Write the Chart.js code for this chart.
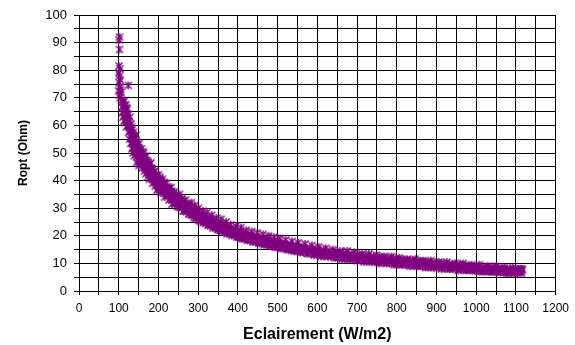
<!DOCTYPE html>
<html><head><meta charset="utf-8">
<script src="https://cdn.jsdelivr.net/npm/chart.js@4"></script>
<style>html,body{margin:0;padding:0;background:#fff}#wrap{width:575px;height:345px}</style>
</head><body><div id="wrap"><canvas id="c" width="575" height="345"></canvas></div>
<script>
// Eclairement (W/m2) - batch 1
const irradiance = [
102,101,102,101,103,100,102,104,101,103,105,100,102,104,106,124,107,108,110,109,
112,111,114,113,116,117,118,119,120,121,123,124,126,125,128,129,127,131,132,130,
134,135,133,137,138,136,140,141,139,143,144,146,147,145,149,150,152,153,151,155,
156,158,159,161,162,164,165,167,168,170,171,173,174,176,177,179,181,182,184,185,
187,189,191,192,194,196,198,200,202,204,206,208,210,212,214,216,218,220,222,225,
227,230,232,234,237,240,242,245,248,250,253,256,259,262,265,268,271,274,277,280,
283,286,289,292,295,298,301,304,308,312,315,319,322,326,330,334,338,342,346,350,
354,358,362,366,370,374,378,382,386,390,395,400,404,408,413,417,421,426,430,435,
440,444,449,454,458,463,468,472,477,482,486,491,496,500,505,510,515,520,526,531,
536,542,547,552,558,563,569,575,580,586,592,597,603,609,615,621,627,633,639,645,
651,657,663,669,675,681,687,693,700,706,712,718,724,730,737,743,749,756,762,768,
775,781,787,794,800,806,813,819,826,833,839,846,853,859,866,873,879,886,893,899,
906,913,919,926,933,940,947,954,960,967,974,981,988,995,1001,1008,1015,1022,1029,1036,
1043,1050,1057,1064,1071,1078,1085,1092,1099,1105,1110,1114,1116
];
// Ropt (Ohm) - batch 1
const ropt = [
92.0,91.0,87.5,81.5,80.5,79.0,78.0,76.5,75.5,74.0,73.0,72.5,71.0,70.0,72.0,74.5,69.0,66.5,68.5,64.5,
67.0,63.0,65.5,61.5,66.0,62.0,64.0,59.5,66.5,62.5,60.0,64.0,61.5,57.5,63.0,59.0,55.0,60.5,56.5,53.5,
58.5,55.0,51.5,57.5,53.5,50.0,56.0,52.0,49.0,54.5,50.5,53.0,48.5,46.5,51.5,47.5,53.5,49.5,45.5,50.5,
46.5,48.5,44.5,50.5,46.0,48.0,43.5,46.5,42.5,49.0,44.5,47.0,41.5,45.0,40.5,43.5,46.5,41.0,44.0,39.0,
42.5,40.0,43.5,38.0,41.0,36.5,39.5,42.0,37.5,40.5,35.5,38.0,40.5,36.0,38.5,34.0,36.5,39.0,35.0,37.0,
33.0,35.5,37.5,31.5,34.0,36.0,32.0,34.5,30.5,33.0,35.0,31.0,33.5,29.0,31.5,33.0,29.5,31.5,28.0,30.5,
32.0,27.5,29.5,31.0,26.5,28.5,30.0,25.5,27.5,29.0,25.0,26.5,28.5,24.0,26.0,27.5,23.5,25.0,26.5,22.5,
24.5,26.0,22.0,23.5,25.0,21.0,22.5,24.0,20.5,22.0,23.5,19.5,21.5,23.0,19.0,20.5,22.0,18.5,20.0,21.5,
18.0,19.5,21.0,17.5,19.0,20.5,17.0,18.5,20.0,16.5,18.0,19.5,16.0,17.5,19.0,15.5,17.0,18.5,15.0,16.5,
18.0,14.5,16.0,17.5,14.0,15.5,17.0,13.5,15.0,16.5,13.0,14.5,16.0,12.5,14.0,15.5,12.5,13.5,15.0,12.0,
13.5,14.5,11.5,13.0,14.5,11.5,12.5,14.0,11.0,12.5,13.5,10.5,12.0,13.5,10.5,11.5,13.0,10.0,11.5,12.5,
10.0,11.0,12.5,9.5,11.0,12.0,9.5,10.5,11.5,9.0,10.5,11.5,9.0,10.0,11.0,8.5,10.0,11.0,8.5,9.5,
10.5,8.0,9.5,10.5,8.0,9.0,10.0,7.5,9.0,10.0,7.5,8.5,9.5,7.5,8.5,9.5,7.0,8.0,9.0,7.0,
8.0,9.0,7.0,8.0,8.5,6.5,7.5,8.5,7.0,8.0,7.5,6.5,8.0
];
// batch 2: each irradiance reading with a lower and an upper Ropt reading
const irradiance2 = [
200,205,211,217,223,229,235,241,247,253,
259,265,271,277,283,289,295,301,307,313,
319,325,331,337,343,349,355,361,367,373,
379,385,391,397,403,410,417,424,431,438,
445,452,459,466,473,480,487,494,501,508,
515,522,529,536,543,550,557,564,571,578,
585,592,599,606,613,620,627,634,641,648,
655,662,669,676,683,690,697,704,711,718,
725,732,739,746,753,760,767,774,781,788,
795,802,809,816,823,830,837,844,851,858,
865,872,879,886,893,900,907,914,921,928,
935,942,949,956,963,970,977,984,991,998,
1005,1012,1019,1026,1033,1040,1047,1054,1061,1068,
1075,1082,1089,1096,1103,1109,1113
];
const roptLow2 = [
38.5,37.2,36.9,35.3,34.9,33.4,32.9,31.8,31.4,30.3,
30.1,29.0,28.7,27.8,27.5,26.6,26.4,25.7,25.4,24.7,
24.5,23.8,23.7,22.9,22.9,22.2,22.1,21.5,21.4,20.8,
20.8,20.2,20.2,19.6,19.6,19.0,19.0,18.4,18.4,17.8,
17.9,17.3,17.4,16.8,16.9,16.4,16.4,15.9,16.0,15.5,
15.6,15.1,15.2,14.7,14.8,14.3,14.5,14.0,14.1,13.7,
13.8,13.3,13.5,13.0,13.2,12.7,12.9,12.5,12.6,12.2,
12.4,11.9,12.1,11.7,11.9,11.5,11.7,11.3,11.4,11.0,
11.2,10.8,11.0,10.6,10.8,10.4,10.6,10.2,10.4,10.0,
10.2,9.8,10.0,9.6,9.8,9.4,9.6,9.2,9.4,9.0,
9.2,8.8,9.0,8.6,8.8,8.5,8.7,8.3,8.5,8.1,
8.3,8.0,8.2,7.8,8.0,7.6,7.9,7.5,7.7,7.3,
7.6,7.2,7.4,7.1,7.3,6.9,7.2,6.8,7.0,6.7,
6.9,6.6,6.8,6.5,6.7,6.8,7.2
];
const roptHigh2 = [
41.2,39.8,39.4,37.8,37.4,36.2,35.4,34.4,33.9,32.8,
32.4,31.4,31.0,30.0,29.8,28.8,28.6,27.7,27.5,26.7,
26.6,25.7,25.7,24.8,24.8,24.0,24.0,23.2,23.3,22.5,
22.6,21.9,22.0,21.3,21.4,20.7,20.8,20.1,20.2,19.5,
19.6,18.9,19.1,18.4,18.6,17.9,18.1,17.5,17.6,17.0,
17.2,16.6,16.8,16.2,16.4,15.8,16.0,15.4,15.6,15.1,
15.3,14.7,15.0,14.4,14.7,14.1,14.4,13.8,14.1,13.6,
13.8,13.3,13.6,13.1,13.3,12.8,13.1,12.6,12.9,12.4,
12.7,12.2,12.5,12.0,12.3,11.8,12.1,11.6,11.9,11.4,
11.7,11.2,11.5,11.0,11.3,10.8,11.1,10.6,10.9,10.4,
10.7,10.2,10.5,10.0,10.3,9.8,10.1,9.6,9.9,9.4,
9.7,9.3,9.6,9.1,9.4,8.9,9.2,8.7,9.0,8.6,
8.9,8.4,8.7,8.2,8.6,8.1,8.4,7.9,8.2,7.8,
8.1,7.6,7.9,7.5,7.8,8.0,7.5
];
// batch 3: low irradiance readings
const irradiance3 = [115,118,122,125,128,132,136,139,142,144,148,150,154,157,160,163,166,169,172,175,178,180,183,186,188,190,193,195,197,199];
const ropt3 = [69,67.5,66,60,58,59.5,54,55.5,53.5,56.5,50,52,48,51.5,47.5,50,45,47.5,45.5,43,46,42.5,44.5,40.5,43,41.5,39.5,42,38.5,37];

const xTickLabels = ['0','100','200','300','400','500','600','700','800','900','1000','1100','1200'];
const yTickLabels = ['0','10','20','30','40','50','60','70','80','90','100'];

function asterisk(r, color) {
  const c = document.createElement('canvas');
  const s = Math.ceil(2 * r + 3);
  c.width = c.height = s;
  const g = c.getContext('2d');
  const m = s / 2;
  g.strokeStyle = color;
  g.lineWidth = 1.4;
  g.beginPath();
  g.moveTo(m - r, m - r); g.lineTo(m + r, m + r);
  g.moveTo(m + r, m - r); g.lineTo(m - r, m + r);
  g.moveTo(m, m - r * 1.15); g.lineTo(m, m + r * 1.15);
  g.stroke();
  return c;
}
const marker = asterisk(3.5, '#800080');
const points = irradiance.map((x, i) => ({ x: x, y: ropt[i] }));
irradiance2.forEach((x, i) => { points.push({ x: x, y: roptLow2[i] }); points.push({ x: x + 3, y: roptHigh2[i] }); });
irradiance3.forEach((x, i) => points.push({ x: x, y: ropt3[i] }));
const FONT = "'Liberation Sans', Arial, sans-serif";

new Chart(document.getElementById('c'), {
  type: 'scatter',
  data: { datasets: [{ data: points, pointStyle: marker, pointRadius: 4, borderColor: '#800080', backgroundColor: '#800080' }] },
  options: {
    responsive: false, devicePixelRatio: 1, animation: false,
    layout: { padding: { left: 0, right: 19, top: 15, bottom: 0 } },
    plugins: { legend: { display: false }, tooltip: { enabled: false } },
    scales: {
      x: {
        type: 'linear', min: 0, max: 1200,
        ticks: { stepSize: 50, autoSkip: false, maxRotation: 0, padding: 6, color: '#000',
          font: { family: FONT, size: 12 },
          callback: v => xTickLabels.includes(String(v)) ? String(v) : '' },
        grid: { color: '#000', lineWidth: 1, tickLength: 4, tickColor: '#000' },
        border: { display: true, color: '#000', width: 1 },
        title: { display: true, text: 'Eclairement (W/m2)', color: '#000',
          font: { family: FONT, size: 16, weight: 'bold' }, padding: { top: 0, bottom: 1 } },
        afterFit: s => { s.height = 54; }
      },
      y: {
        type: 'linear', min: 0, max: 100,
        ticks: { stepSize: 5, autoSkip: false, padding: 7, color: '#000',
          font: { family: FONT, size: 13 },
          callback: v => yTickLabels.includes(String(v)) ? String(v) : '' },
        grid: { color: '#000', lineWidth: 1, tickLength: 5, tickColor: '#000' },
        border: { display: true, color: '#000', width: 1 },
        title: { display: true, text: 'Ropt (Ohm)', color: '#000',
          font: { family: FONT, size: 12, weight: 'bold' }, padding: { top: 16, bottom: 0 } },
        afterFit: s => { s.width = 79; }
      }
    }
  }
});
</script></body></html>
